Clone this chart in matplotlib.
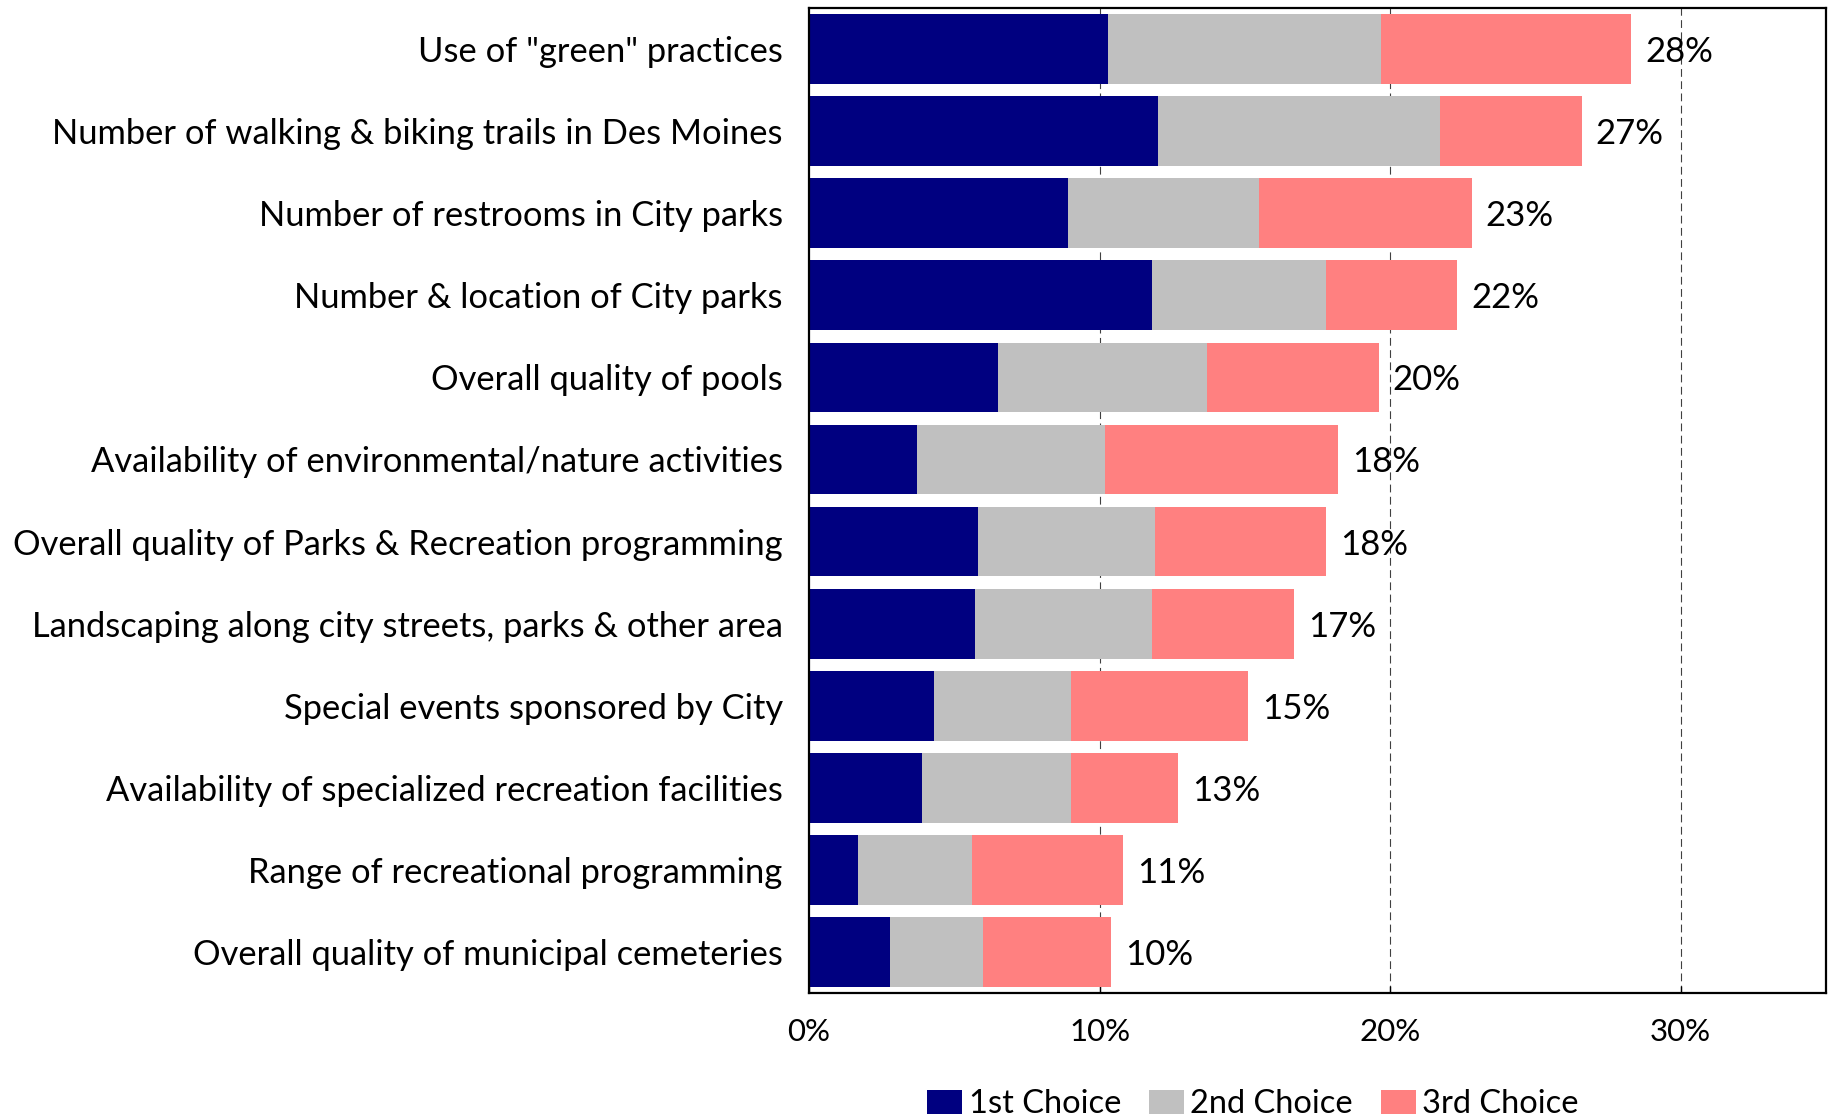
import matplotlib
matplotlib.use("Agg")
import matplotlib.pyplot as plt
import numpy as np

plt.rcParams['font.family'] = ['Lato', 'DejaVu Sans']

categories = [
    'Use of "green" practices',
    'Number of walking & biking trails in Des Moines',
    'Number of restrooms in City parks',
    'Number & location of City parks',
    'Overall quality of pools',
    'Availability of environmental/nature activities',
    'Overall quality of Parks & Recreation programming',
    'Landscaping along city streets, parks & other area',
    'Special events sponsored by City',
    'Availability of specialized recreation facilities',
    'Range of recreational programming',
    'Overall quality of municipal cemeteries',
]
first = [10.3, 12.0, 8.9, 11.8, 6.5, 3.7, 5.8, 5.7, 4.3, 3.9, 1.7, 2.8]
second = [9.4, 9.7, 6.6, 6.0, 7.2, 6.5, 6.1, 6.1, 4.7, 5.1, 3.9, 3.2]
third = [8.6, 4.9, 7.3, 4.5, 5.9, 8.0, 5.9, 4.9, 6.1, 3.7, 5.2, 4.4]
series_names = ['1st Choice', '2nd Choice', '3rd Choice']
colors = ['#000080', '#C0C0C0', '#FF8080']
xticks = [0, 10, 20, 30]
xtick_labels = ['0%', '10%', '20%', '30%']

fig = plt.figure(figsize=(18.28, 11.16), dpi=100)
ax = fig.add_axes([0.4426, 0.1102, 0.5563, 0.8826])

y = np.arange(len(categories))
f = np.array(first) / 100
s = np.array(second) / 100
t = np.array(third) / 100
h = 0.85
ax.barh(y, f, height=h, color=colors[0], label=series_names[0], zorder=2)
ax.barh(y, s, left=f, height=h, color=colors[1], label=series_names[1], zorder=2)
ax.barh(y, t, left=f + s, height=h, color=colors[2], label=series_names[2], zorder=2)

totals = f + s + t
for yi, tot in zip(y, totals):
    ax.annotate(f"{round(tot * 100):.0f}%", (tot, yi), xytext=(10, 0),
                textcoords='offset points', va='center_baseline', ha='left',
                fontsize=25, zorder=3)

ax.set_ylim(len(categories) - 0.5, -0.5)
ax.set_xlim(0, 0.35)
ax.set_yticks(y)
ax.set_yticklabels(categories, fontsize=24.8)
for lab in ax.get_yticklabels():
    lab.set_verticalalignment('center_baseline')
ax.set_xticks([v / 100 for v in xticks])
ax.set_xticklabels(xtick_labels, fontsize=22.5)
ax.tick_params(axis='y', length=0, pad=19)
ax.tick_params(axis='x', direction='in', length=5, width=1, pad=18)

for v in xticks[1:]:
    ax.axvline(v / 100, color='#404040', lw=0.8, linestyle=(0, (7, 4)), zorder=1)

for sp in ax.spines.values():
    sp.set_linewidth(1.6)
    sp.set_color('black')

leg = fig.legend(loc='center', bbox_to_anchor=(0.6855, 0.0105), ncol=3, frameon=False,
                 fontsize=23.5, handlelength=1.07, handleheight=0.75, handletextpad=0.2,
                 columnspacing=0.85, borderpad=0.2)

fig.savefig('out.png', dpi=100)
